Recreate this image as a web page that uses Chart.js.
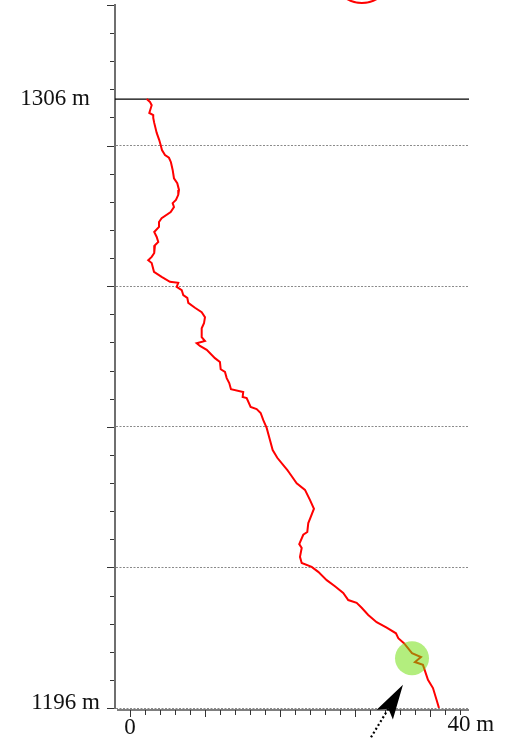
<!DOCTYPE html>
<html>
<head>
<meta charset="utf-8">
<script src="https://cdn.jsdelivr.net/npm/chart.js@4.4.0/dist/chart.umd.min.js"></script>
<style>
  html, body { margin: 0; padding: 0; background: #fff; }
  #wrap { width: 506px; height: 739px; }
</style>
</head>
<body>
<div id="wrap"><canvas id="profile"></canvas></div>
<script>
// Surveyed line: horizontal offset (m) and elevation (m), top to bottom
const offsetM = [
  2.03, 2.43, 2.64, 2.35, 2.83, 2.83, 2.95, 3.25, 3.56, 3.73,
  3.89, 4.26, 4.74, 4.98, 5.19, 5.35, 5.75, 5.96, 5.87, 5.59,
  5.19, 5.35, 4.95, 3.85, 3.53, 3.53, 2.95, 3.25, 3.44, 3.04,
  2.95, 2.64, 2.22, 2.64, 2.92, 3.85, 4.86, 5.87, 5.68, 6.29,
  6.48, 6.97, 7.09, 7.90, 8.72, 9.12, 9.00, 8.72, 8.72, 9.12,
  8.11, 8.51, 9.33, 10.33, 10.94, 11.03, 11.55, 11.76, 12.07, 12.28,
  13.77, 13.70, 14.19, 14.67, 15.40, 15.89, 16.21, 16.62, 17.02, 17.35,
  17.91, 18.84, 19.12, 19.37, 20.27, 21.28, 21.88, 22.37, 21.97, 21.68,
  21.56, 21.07, 20.58, 20.88, 20.67, 20.88, 22.09, 22.89, 23.92, 24.92,
  25.93, 26.54, 27.56, 28.17, 28.97, 29.99, 31.21, 32.34, 32.62, 33.31,
  34.29, 35.38, 34.65, 35.62, 36.23, 36.84, 37.29, 37.57
];
const elevM = [
  1306.0, 1305.5, 1304.9, 1303.5, 1303.1, 1302.6, 1301.7, 1299.9, 1298.6, 1297.7,
  1296.8, 1295.9, 1295.4, 1294.6, 1293.2, 1291.7, 1290.8, 1289.6, 1288.7, 1287.8,
  1287.2, 1286.5, 1285.6, 1284.5, 1283.8, 1282.9, 1282.0, 1281.1, 1280.2, 1279.6,
  1278.2, 1277.5, 1276.9, 1276.4, 1274.8, 1273.9, 1273.0, 1272.8, 1272.1, 1271.5,
  1270.6, 1270.1, 1269.2, 1268.3, 1267.5, 1266.6, 1265.5, 1264.6, 1263.0, 1262.3,
  1261.9, 1261.4, 1260.7, 1259.2, 1258.5, 1257.2, 1256.7, 1255.6, 1254.7, 1253.6,
  1253.1, 1252.2, 1252.0, 1250.4, 1250.0, 1249.3, 1248.0, 1246.6, 1244.4, 1242.6,
  1241.2, 1239.5, 1239.0, 1238.5, 1236.6, 1235.4, 1233.6, 1232.0, 1230.5, 1229.4,
  1227.8, 1227.3, 1225.6, 1224.9, 1223.3, 1222.2, 1221.5, 1220.6, 1219.1, 1218.0,
  1216.8, 1215.5, 1215.0, 1214.1, 1212.8, 1211.5, 1210.5, 1209.5, 1208.6, 1207.7,
  1205.9, 1205.2, 1204.3, 1203.8, 1201.1, 1199.6, 1197.4, 1196.0
];

// highlighted spot on the line, and the ring marker above the plot
const spotX = [34.29];
const spotY = [1205.0];
const ringX = [28.2];
const ringY = [1328.8];

// arrow pointing at the spot: [offset, elevation] of tail and tip
const arrowTail = [29.18, 1190.4];
const arrowTip = [33.19, 1200.2];

// datum line and labelled values
const datumLevels = [1306];
const yLabelValues = [1196, 1306];
const xLabelValues = [0, 40];

// axis ranges and tick spacing
const yMin = 1196, yMax = 1323, yStep = 5.08;
const xMin = -1.82, xMax = 41.22, xStep = 1.824;

const serif = '"Liberation Serif", "DejaVu Serif", serif';

function tickIndex(v, min, step) { return Math.round((v - min) / step); }

// tick marks, x axis line, labels and arrow
const decorations = {
  id: 'decorations',
  afterDraw(chart) {
    const { ctx, chartArea: a } = chart;
    const xs = chart.scales.x, ys = chart.scales.y;
    ctx.save();

    // y tick marks
    ctx.strokeStyle = '#333';
    ctx.lineWidth = 1;
    ys.ticks.forEach(t => {
      const k = tickIndex(t.value, yMin, yStep);
      const len = k % 5 === 0 ? 7 : 4;
      const py = Math.round(ys.getPixelForValue(t.value)) + 0.5;
      ctx.beginPath();
      ctx.moveTo(a.left - 1 - len, py);
      ctx.lineTo(a.left - 1, py);
      ctx.stroke();
    });

    // x axis line just under the plot
    const axisY = a.bottom + 2;
    ctx.strokeStyle = '#555';
    ctx.lineWidth = 1.5;
    ctx.beginPath();
    ctx.moveTo(a.left + 2, axisY);
    ctx.lineTo(a.right, axisY);
    ctx.stroke();

    ctx.strokeStyle = '#333';
    ctx.lineWidth = 1;
    xs.ticks.forEach(t => {
      const k = tickIndex(t.value, 0, xStep);
      const len = k % 5 === 0 ? 7 : 5;
      const px = Math.round(xs.getPixelForValue(t.value)) + 0.5;
      ctx.beginPath();
      ctx.moveTo(px, axisY);
      ctx.lineTo(px, axisY + len);
      ctx.stroke();
    });

    // labels
    ctx.fillStyle = '#111';
    ctx.font = '23px ' + serif;
    ctx.textBaseline = 'middle';
    ctx.textAlign = 'right';
    ctx.fillText(yLabelValues[0] + ' m', a.left - 15, ys.getPixelForValue(yLabelValues[0]) - 5);
    ctx.fillText(yLabelValues[1] + ' m', a.left - 25, ys.getPixelForValue(yLabelValues[1]));

    ctx.textAlign = 'center';
    ctx.fillText(String(xLabelValues[0]), xs.getPixelForValue(xLabelValues[0]), a.bottom + 20);
    const num = String(xLabelValues[1]);
    ctx.textAlign = 'left';
    ctx.fillText(num + ' m', xs.getPixelForValue(xLabelValues[1]) - ctx.measureText(num).width / 2, a.bottom + 17);

    // arrow: filled head with a dotted shaft
    const tx = xs.getPixelForValue(arrowTip[0]), ty = ys.getPixelForValue(arrowTip[1]);
    const sx = xs.getPixelForValue(arrowTail[0]), sy = ys.getPixelForValue(arrowTail[1]);
    const dl = Math.hypot(tx - sx, ty - sy);
    const ux = (tx - sx) / dl, uy = (ty - sy) / dl;
    const nx = -uy, ny = ux;
    const headLen = 35, halfW = 9.5, notch = 28;
    const bx = tx - ux * headLen, by = ty - uy * headLen;
    const mx = tx - ux * notch, my = ty - uy * notch;

    ctx.strokeStyle = '#000';
    ctx.lineWidth = 2.2;
    ctx.setLineDash([2, 2.5]);
    ctx.beginPath();
    ctx.moveTo(mx, my);
    ctx.lineTo(sx, sy);
    ctx.stroke();
    ctx.setLineDash([]);

    ctx.fillStyle = '#000';
    ctx.beginPath();
    ctx.moveTo(tx, ty);
    ctx.lineTo(bx + nx * halfW, by + ny * halfW);
    ctx.lineTo(mx, my);
    ctx.lineTo(bx - nx * halfW, by - ny * halfW);
    ctx.closePath();
    ctx.fill();

    ctx.restore();
  }
};

const profileData = offsetM.map((x, i) => ({ x, y: elevM[i] }));
const datumData = datumLevels.flatMap(v => [{ x: xMin, y: v }, { x: xMax, y: v }]);

new Chart(document.getElementById('profile'), {
  type: 'scatter',
  data: {
    datasets: [
      {
        data: spotX.map((x, i) => ({ x, y: spotY[i] })),
        pointRadius: 17,
        pointBackgroundColor: 'rgba(110, 222, 8, 0.52)',
        pointBorderWidth: 0,
        order: 0
      },
      {
        data: ringX.map((x, i) => ({ x, y: ringY[i] })),
        pointRadius: 30,
        hoverRadius: 40,
        pointBackgroundColor: 'rgba(0,0,0,0)',
        pointBorderColor: '#ff0000',
        pointBorderWidth: 2,
        clip: false,
        order: 1
      },
      {
        data: profileData,
        showLine: true,
        borderColor: '#ff0000',
        borderWidth: 2,
        pointRadius: 0,
        tension: 0,
        order: 2
      },
      {
        data: datumData,
        showLine: true,
        borderColor: '#000',
        borderWidth: 1.4,
        pointRadius: 0,
        order: 3
      }
    ]
  },
  options: {
    responsive: true,
    maintainAspectRatio: false,
    animation: false,
    events: [],
    layout: { autoPadding: false, padding: { top: 5, right: 37, left: 0, bottom: 0 } },
    plugins: { legend: { display: false }, tooltip: { enabled: false } },
    scales: {
      x: {
        type: 'linear',
        min: xMin,
        max: xMax,
        afterFit: s => { s.height = 31; },
        afterBuildTicks: s => {
          const t = [];
          for (let v = 0; v <= xMax; v += xStep) t.push({ value: v });
          s.ticks = t;
        },
        ticks: { display: false },
        grid: { display: false },
        border: { display: false }
      },
      y: {
        type: 'linear',
        min: yMin,
        max: yMax,
        afterFit: s => { s.width = 115; },
        afterBuildTicks: s => {
          const t = [];
          for (let k = 0; k <= 25; k++) t.push({ value: yMin + k * yStep });
          s.ticks = t;
        },
        ticks: { display: false },
        grid: {
          drawTicks: false,
          lineWidth: 1,
          color: c => {
            if (!c.tick) return 'rgba(0,0,0,0)';
            const k = tickIndex(c.tick.value, yMin, yStep);
            return (k % 5 === 0 && k < 25) ? '#8a8a8a' : 'rgba(0,0,0,0)';
          }
        },
        border: { display: true, color: '#6f6f6f', width: 2, dash: [2, 1.5] }
      }
    }
  },
  plugins: [decorations]
});
</script>
</body>
</html>
